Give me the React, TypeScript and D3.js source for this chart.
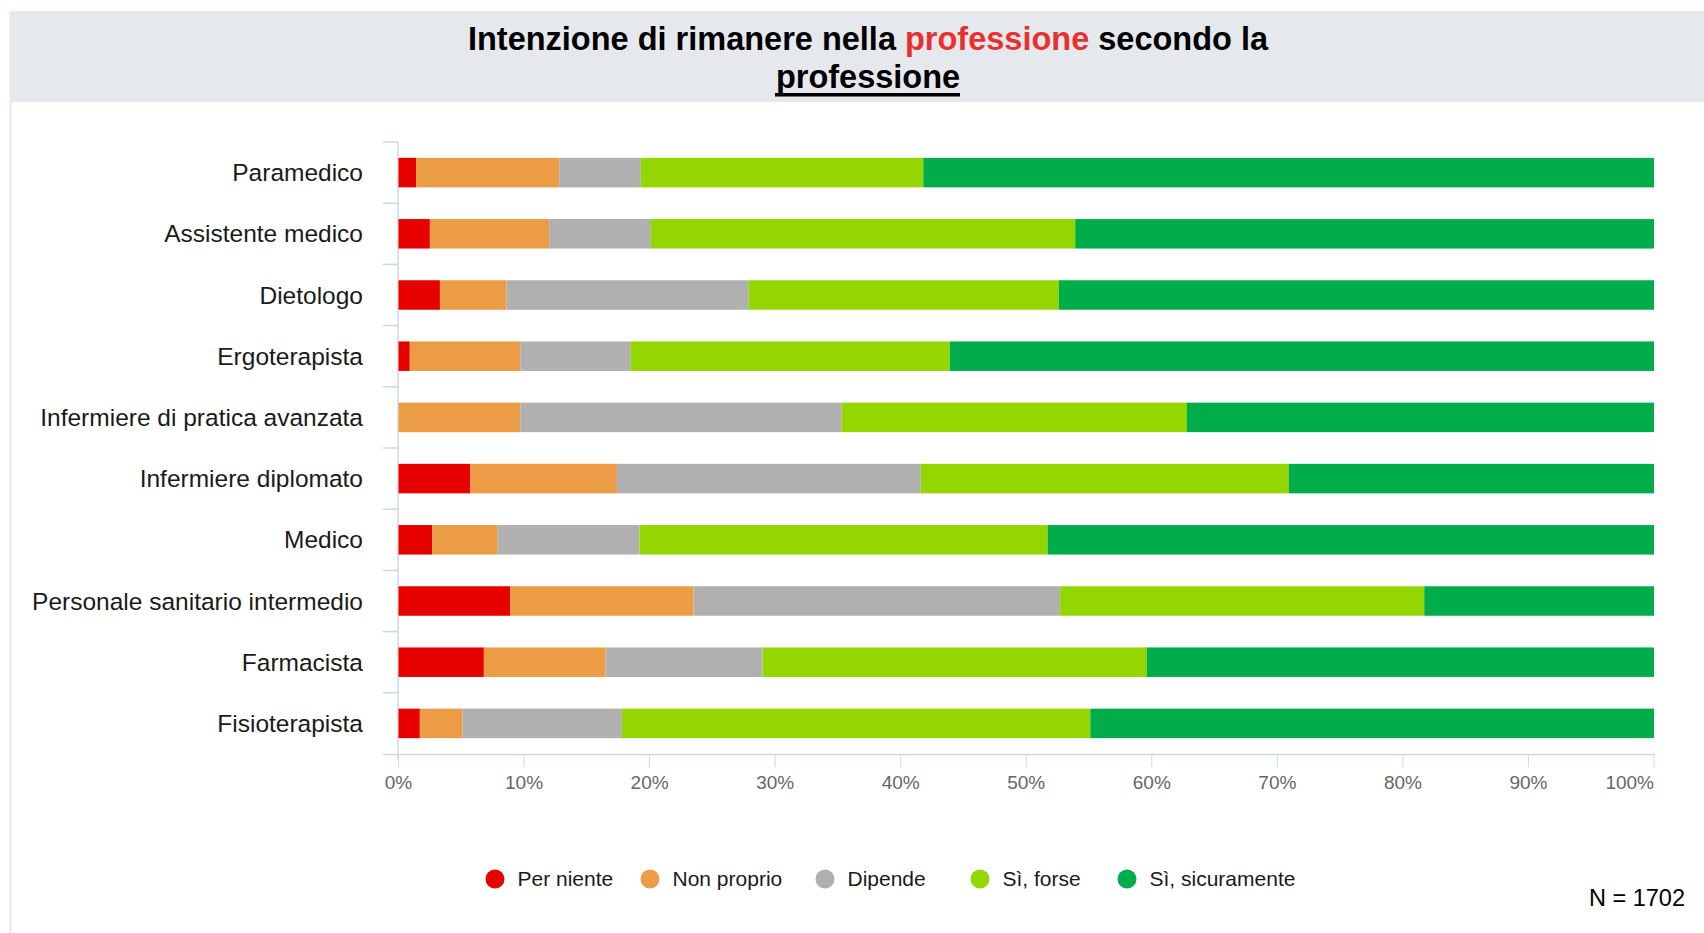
import React from "react";
import * as d3 from "d3";

const categories = [
  "Paramedico",
  "Assistente medico",
  "Dietologo",
  "Ergoterapista",
  "Infermiere di pratica avanzata",
  "Infermiere diplomato",
  "Medico",
  "Personale sanitario intermedio",
  "Farmacista",
  "Fisioterapista",
];

const seriesNames = ["Per niente", "Non proprio", "Dipende", "Sì, forse", "Sì, sicuramente"];
const seriesColors = ["#e60000", "#eb9c44", "#b0b0b0", "#94d600", "#00ad4a"];

const perNiente = [1.4, 2.5, 3.3, 0.9, 0.0, 5.7, 2.7, 8.9, 6.8, 1.7];
const nonProprio = [11.4, 9.5, 5.3, 8.8, 9.7, 11.7, 5.2, 14.6, 9.7, 3.4];
const dipende = [6.5, 8.1, 19.3, 8.8, 25.6, 24.2, 11.3, 29.2, 12.5, 12.7];
const siForse = [22.5, 33.8, 24.7, 25.4, 27.5, 29.3, 32.5, 29.0, 30.6, 37.3];
const siSicuramente = [58.2, 46.1, 47.4, 56.1, 37.2, 29.1, 48.3, 18.3, 40.4, 44.9];

const xTicks = [0, 10, 20, 30, 40, 50, 60, 70, 80, 90, 100];

const W = 1704;
const H = 933;
const FONT = "'Liberation Sans', Arial, sans-serif";
const AXIS_COLOR = "#ccd6eb";

export default function App() {
  const x = d3.scaleLinear().domain([0, 100]).range([398.5, 1654]);
  const y = d3.scaleBand<string>().domain(categories).range([142, 754]).padding(0);
  const barH = 29.5;

  const seriesArrays = [perNiente, nonProprio, dipende, siForse, siSicuramente];
  const rows = categories.map((c, i) => {
    const r: any = { cat: c };
    seriesNames.forEach((s, k) => (r[s] = seriesArrays[k][i]));
    return r;
  });
  const stacked = d3.stack<any>().keys(seriesNames)(rows);

  const legendX = [495, 650, 825, 980, 1127];
  const legendY = 879;

  return (
    <svg
      width={W}
      height={H}
      style={{ position: "absolute", left: 0, top: 0, display: "block", background: "#fff" }}
      fontFamily={FONT}
    >
      {/* panel border and title band */}
      <rect x={9.5} y={11} width={2} height={H - 11} fill="#e4e8ec" />
      <rect x={10} y={11} width={W - 10} height={91} fill="#e5e9ed" />
      <text x={868} y={50} textAnchor="middle" fontSize={32.5} fontWeight="bold" fill="#000">
        <tspan>Intenzione di rimanere nella </tspan>
        <tspan fill="#e8312f">professione</tspan>
        <tspan> secondo la</tspan>
      </text>
      <text x={868} y={87.5} textAnchor="middle" fontSize={32.5} fontWeight="bold" fill="#000">
        professione
      </text>
      <rect x={775} y={93} width={185} height={3.5} fill="#000" />

      {/* category axis */}
      <line x1={398} x2={398} y1={142} y2={760} stroke={AXIS_COLOR} strokeWidth={1.5} />
      {categories.map((c, i) => (
        <line
          key={"ct" + i}
          x1={383}
          x2={398}
          y1={y(c)!}
          y2={y(c)!}
          stroke={AXIS_COLOR}
          strokeWidth={1.5}
        />
      ))}
      <line x1={383} x2={1655} y1={754.5} y2={754.5} stroke={AXIS_COLOR} strokeWidth={1.5} />
      {categories.map((c, i) => (
        <text
          key={"cl" + i}
          x={363}
          y={y(c)! + y.bandwidth() / 2}
          dy="0.35em"
          textAnchor="end"
          fontSize={24.5}
          fill="#1a1a1a"
        >
          {c}
        </text>
      ))}

      {/* x ticks */}
      {xTicks.map((t, i) => (
        <g key={"xt" + i}>
          <line x1={x(t)} x2={x(t)} y1={754} y2={767} stroke={AXIS_COLOR} strokeWidth={1} />
          <text
            x={x(t)}
            y={789}
            textAnchor={i === xTicks.length - 1 ? "end" : "middle"}
            fontSize={19}
            fill="#666666"
          >
            {t + "%"}
          </text>
        </g>
      ))}

      {/* bars */}
      {stacked.map((layer, k) => (
        <g key={"s" + k} fill={seriesColors[k]}>
          {layer.map((d, i) => {
            const w = x(d[1]) - x(d[0]);
            if (w <= 0) return null;
            return (
              <rect
                key={i}
                x={x(d[0])}
                y={y(categories[i])! + y.bandwidth() / 2 - barH / 2}
                width={w}
                height={barH}
              />
            );
          })}
        </g>
      ))}

      {/* legend */}
      {seriesNames.map((s, k) => (
        <g key={"lg" + k}>
          <circle cx={legendX[k]} cy={legendY} r={9.5} fill={seriesColors[k]} />
          <text x={legendX[k] + 22.5} y={legendY} dy="0.35em" fontSize={21} fill="#1a1a1a">
            {s}
          </text>
        </g>
      ))}

      <text x={1685} y={906} textAnchor="end" fontSize={23.5} fill="#000">
        N = 1702
      </text>
    </svg>
  );
}
